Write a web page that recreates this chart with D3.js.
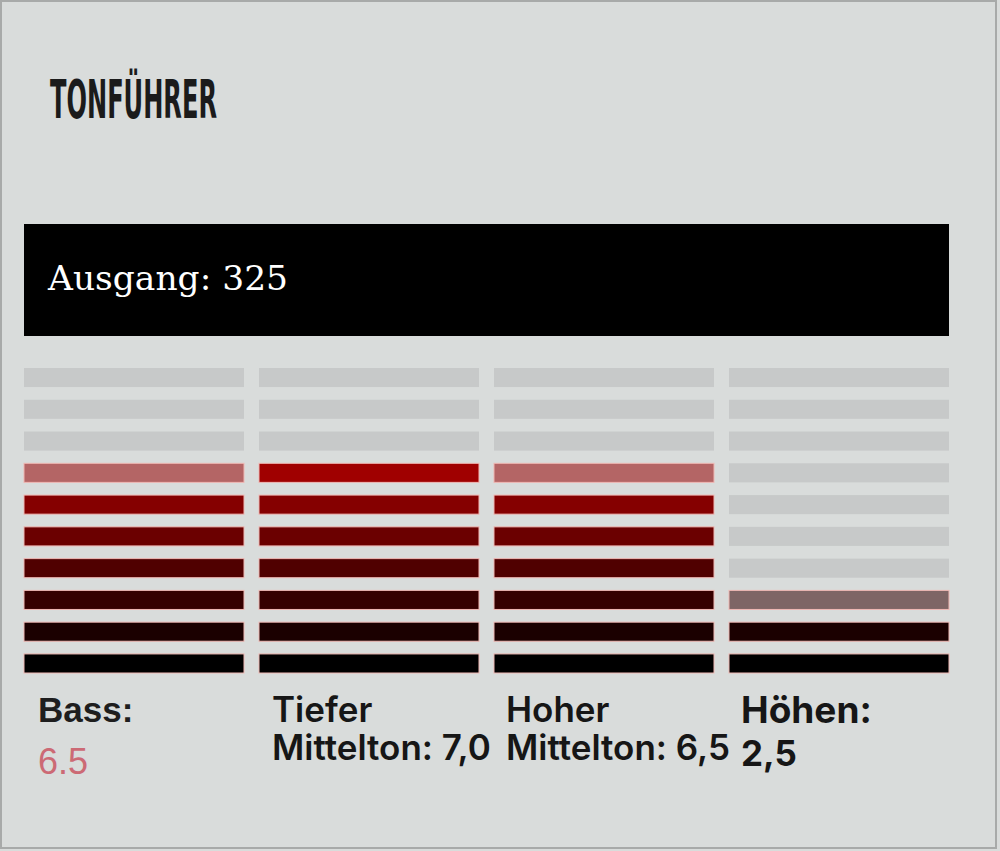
<!DOCTYPE html>
<html>
<head>
<meta charset="utf-8">
<script src="https://cdn.jsdelivr.net/npm/d3@7"></script>
<style>
  body { margin: 0; background: #d9dcdb; }
  svg { display: block; }
</style>
</head>
<body>
<script>
var title       = "TONFÜHRER";
var outputLabel = "Ausgang";
var outputValue = 325;

var categories  = ["Bass", "Tiefer Mittelton", "Hoher Mittelton", "Höhen"];
var labelLines  = [["Bass:"], ["Tiefer", "Mittelton: 7,0"], ["Hoher", "Mittelton: 6,5"], ["Höhen:", "2,5"]];
var values      = [6.5, 7.0, 6.5, 2.5];
var levels      = d3.range(10, 0, -1);   // 10 segments, top to bottom

var width  = 1000;
var height = 851;

var svg = d3.select("body").append("svg").attr("width", width).attr("height", height);

svg.append("rect").attr("x", 1).attr("y", 1).attr("width", 995).attr("height", 847)
   .attr("fill", "#d9dcdb").attr("stroke", "#a8aaa9").attr("stroke-width", 2);

// title
svg.append("text").attr("x", 50).attr("y", 118).text(title)
   .attr("font-family", "'DejaVu Sans Condensed', 'DejaVu Sans', sans-serif")
   .attr("font-weight", "bold").attr("font-size", 53)
   .attr("textLength", 167).attr("lengthAdjust", "spacingAndGlyphs")
   .attr("fill", "#1b1b1b");

// output banner
svg.append("rect").attr("x", 24).attr("y", 224).attr("width", 925).attr("height", 112).attr("fill", "#000");
svg.append("text").attr("x", 48).attr("y", 290).text(outputLabel + ": " + outputValue)
   .attr("font-family", "'DejaVu Serif', serif").attr("font-size", 34)
   .attr("textLength", 240).attr("lengthAdjust", "spacingAndGlyphs")
   .attr("fill", "#fff");

var x = d3.scaleBand().domain(categories).range([24, 949]).paddingInner(15 / 235);
var y = d3.scaleBand().domain(levels).range([368, 673]).paddingInner(0.4);

var grey  = "#c7c9c9";
var color = d3.scaleLinear().domain([1, 7]).range(["#000000", "#a00000"]).clamp(true);

function segFill(level, v) {
    if (level <= Math.floor(v)) return color(level);
    if (level === Math.ceil(v)) return d3.interpolateRgb(grey, color(level))(0.5);
    return grey;
}

var cols = svg.append("g").selectAll("g").data(categories).enter().append("g")
              .attr("transform", function(d){return "translate(" + x(d) + ",0)";});

cols.selectAll("rect").data(function(d, i){return levels.map(function(l){return {level:l, v:values[i]};});})
    .enter().append("rect")
    .attr("x", 0)
    .attr("y", function(d){return y(d.level);})
    .attr("width", x.bandwidth())
    .attr("height", y.bandwidth())
    .attr("fill", function(d){return segFill(d.level, d.v);})
    .attr("stroke", function(d){return d.level <= Math.ceil(d.v) ? "#f0b8b4" : "none";})
    .attr("stroke-width", 1);

// labels under the columns
var labelX = [38, 272, 506, 741];

var bass = svg.append("text").attr("font-family", "'Liberation Sans', sans-serif");
bass.append("tspan").attr("x", labelX[0]).attr("y", 722).text(labelLines[0][0])
    .attr("font-weight", "bold").attr("font-size", 35).attr("fill", "#1e1e1e");
bass.append("tspan").attr("x", labelX[0]).attr("y", 774).text(String(values[0]))
    .attr("font-size", 36).attr("fill", "#cc6a75");

[1, 2].forEach(function(i) {
    var t = svg.append("text").attr("font-family", "Inter, sans-serif").attr("font-weight", 600)
               .attr("font-size", 35).attr("fill", "#161616");
    labelLines[i].forEach(function(s, j) {
        t.append("tspan").attr("x", labelX[i]).attr("y", 722 + j * 38).text(s);
    });
});

var treble = svg.append("text").attr("font-family", "Inter, sans-serif").attr("font-weight", 700)
                .attr("fill", "#161616");
treble.append("tspan").attr("x", labelX[3]).attr("y", 723).attr("font-size", 37).text(labelLines[3][0]);
treble.append("tspan").attr("x", labelX[3]).attr("y", 766).attr("font-size", 35).text(labelLines[3][1]);
</script>
</body>
</html>
